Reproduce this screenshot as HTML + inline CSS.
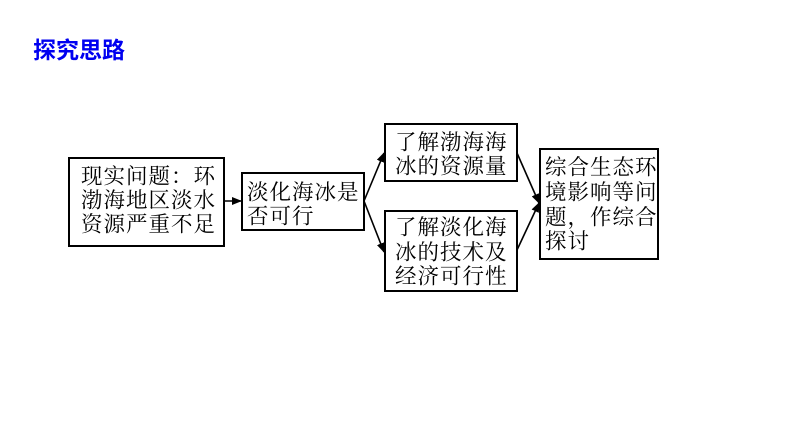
<!DOCTYPE html>
<html><head><meta charset="utf-8"><style>
html,body{margin:0;padding:0;background:#fff;}
svg{display:block;}
.t{font-family:"Noto Serif CJK SC","Liberation Serif",serif;font-size:21.5px;fill:#000;letter-spacing:1px;}
.h{font-family:"Liberation Sans","Noto Sans CJK SC",sans-serif;font-size:23px;font-weight:bold;fill:#0000f0;}
</style></head><body>
<svg width="794" height="447" viewBox="0 0 794 447" xmlns="http://www.w3.org/2000/svg">
<defs>
<marker id="a" markerWidth="10" markerHeight="8" refX="9" refY="4" orient="auto" markerUnits="userSpaceOnUse">
<path d="M0,0 L10,4 L0,8 Z" fill="#000"/>
</marker>
</defs>
<text class="h" x="33" y="58">探究思路</text>
<g fill="none" stroke="#000" stroke-width="2">
<rect x="69" y="158" width="155" height="88"/>
<rect x="242" y="173" width="122" height="57"/>
<rect x="385" y="124" width="132" height="57"/>
<rect x="385" y="211" width="132" height="80"/>
<rect x="540" y="149" width="118" height="110"/>
</g>
<g stroke="#000" stroke-width="1.6" fill="none">
<line x1="224" y1="201" x2="241" y2="201" marker-end="url(#a)"/>
<line x1="364" y1="201" x2="384" y2="153" marker-end="url(#a)"/>
<line x1="364" y1="201" x2="384" y2="252" marker-end="url(#a)"/>
<line x1="517" y1="153" x2="539" y2="203" marker-end="url(#a)"/>
<line x1="517" y1="250" x2="539" y2="203" marker-end="url(#a)"/>
</g>
<g class="t" dominant-baseline="central">
<text x="81" y="175">现实问题：环</text>
<text x="81" y="199">渤海地区淡水</text>
<text x="81" y="223">资源严重不足</text>
<text x="247" y="191">淡化海冰是</text>
<text x="247" y="215">否可行</text>
<text x="395" y="141">了解渤海海</text>
<text x="395" y="165">冰的资源量</text>
<text x="395" y="226">了解淡化海</text>
<text x="395" y="251">冰的技术及</text>
<text x="395" y="275">经济可行性</text>
<text x="545" y="166">综合生态环</text>
<text x="545" y="191">境影响等问</text>
<text x="545" y="216">题，作综合</text>
<text x="545" y="240">探讨</text>
</g>
</svg>
</body></html>
